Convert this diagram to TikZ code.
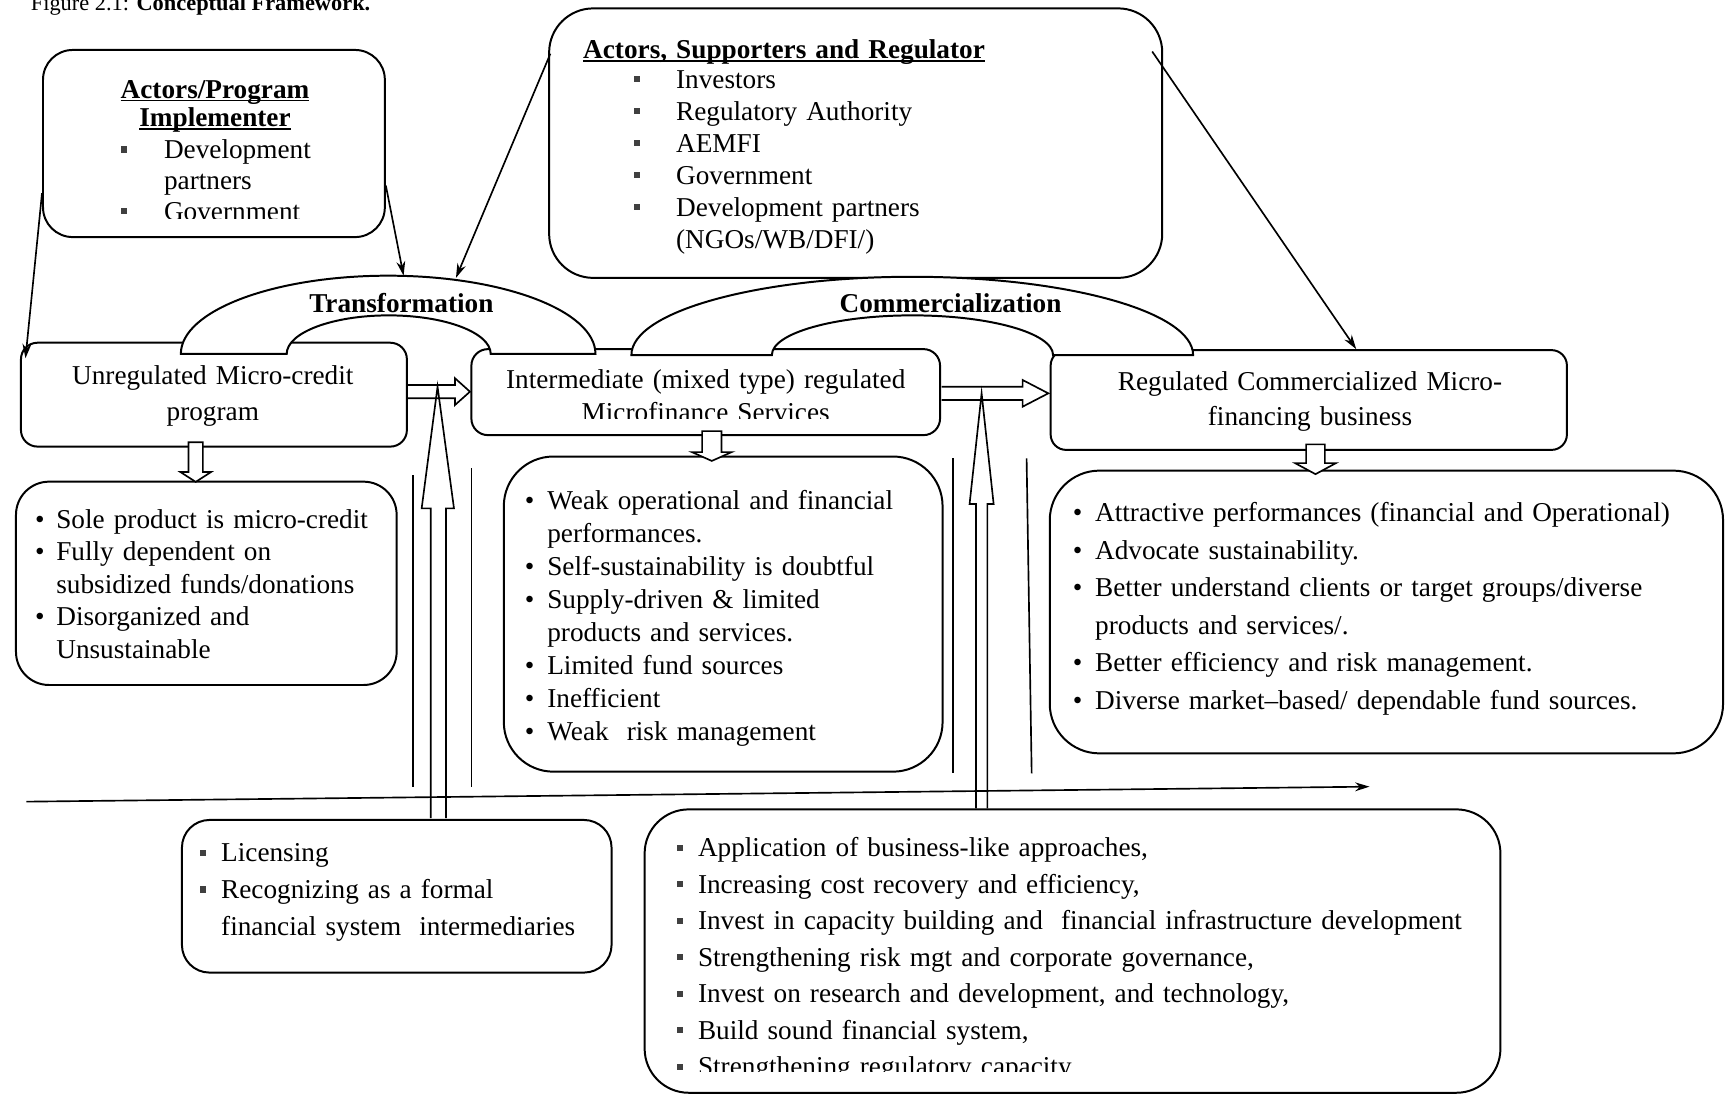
\documentclass[tikz,border=0pt]{standalone}
\usepackage{fontspec}
\setmainfont{Liberation Serif}
\usetikzlibrary{arrows.meta,calc}
\newsavebox\ulbox
\newcommand\myul[1]{\leavevmode\sbox{\ulbox}{#1}\rlap{\rule[-3pt]{\wd\ulbox}{1.5pt}}\usebox{\ulbox}}
\newcommand\sqb[1]{\leavevmode\llap{\textcolor{black!75}{\rule[5.2pt]{5.6pt}{5.6pt}}\hspace{#1}}}
\newcommand\rdb[1]{\leavevmode\llap{\textbullet\hspace{#1}}}
\newcommand\myfs[1]{\fontsize{24.7pt}{#1pt}\selectfont}
\tikzset{
  box/.style={draw, line width=1.8pt, rounded corners=#1, inner sep=0pt},
  txt/.style={inner sep=0pt, anchor=base west, align=left, text width=#1},
  ctxt/.style={inner sep=0pt, anchor=base, align=center, text width=#1},
  arr/.style={line width=1.5pt, -{Stealth[length=13pt,width=8pt]}},
  hollow/.style={line width=1.5pt, fill=white, line join=miter},
  openarrow/.style={line width=1.5pt, line join=miter},
  band/.style={line width=1.8pt, fill=white},
  plainline/.style={line width=1.5pt}
}
\begin{document}
\begin{tikzpicture}[x=1pt,y=-1pt]
\useasboundingbox (0,0) rectangle (1568,994);
% caption (cut at the top)
\node[anchor=base west, inner sep=0pt, font=\fontsize{20.3pt}{24pt}\selectfont] (cap) at (27.8,9.5) {Figure 2.1: \textbf{Conceptual Framework.}};
% boxes
\node[box=27pt, minimum width=310pt, minimum height=169.7pt] (A) at (194,130.15) {};
\node[box=40pt, minimum width=556pt, minimum height=244.4pt] (B) at (776,129.8) {};
\node[box=15pt, minimum width=350pt, minimum height=94.2pt] (U) at (194,357.9) {};
\node[box=15pt, minimum width=425pt, minimum height=78pt] (I) at (640,355.6) {};
\node[box=14pt, minimum width=468.2pt, minimum height=90.5pt] (R) at (1186.9,362.75) {};
\node[box=30pt, minimum width=345.2pt, minimum height=184.4pt] (D1) at (187.1,529) {};
\node[box=45pt, minimum width=397.9pt, minimum height=285.8pt] (D2) at (655.85,556.9) {};
\node[box=45pt, minimum width=610.6pt, minimum height=256.4pt] (D3) at (1257.3,555) {};
\node[box=25pt, minimum width=389.6pt, minimum height=138.4pt] (L) at (359.8,812.8) {};
\node[box=40pt, minimum width=776.1pt, minimum height=257pt] (M) at (972.65,862.5) {};
% arc bands
\draw[band] (164,321) arc[start angle=180,end angle=0,x radius=188pt,y radius=71pt] -- (445,321) arc[start angle=0,end angle=180,x radius=92.5pt,y radius=35pt] -- cycle;
\draw[band] (572.6,322) arc[start angle=180,end angle=0,x radius=254.7pt,y radius=71pt] -- (955,322) arc[start angle=0,end angle=180,x radius=127.5pt,y radius=36pt] -- cycle;
\coordinate (Ttop) at (352,250);
% small down arrows
\draw[hollow] (171,401) -- (184,401) -- (184,428) -- (191.5,428) -- (177.5,437) -- (163.5,428) -- (171,428) -- cycle;
\draw[hollow] (636.7,391) -- (654.3,391) -- (654.3,410) -- (663.5,410) -- (645.5,418) -- (627.5,410) -- (636.7,410) -- cycle;
\draw[hollow] (1184.5,403) -- (1201.5,403) -- (1201.5,420) -- (1211.5,420) -- (1193,430) -- (1174.5,420) -- (1184.5,420) -- cycle;
% horizontal hollow arrows
\draw[openarrow] (368.8,349.2) -- (412.6,349.2) -- (412.6,343) -- (426.2,355.2) -- (412.6,367.3) -- (412.6,361.2) -- (368.8,361.2);
\draw[openarrow] (854,350.7) -- (927.4,350.7) -- (927.4,344.6) -- (950.7,356.7) -- (927.4,368.8) -- (927.4,362.8) -- (854,362.8);
% vertical hollow arrows
\draw[openarrow] (390.6,742) -- (390.6,461) -- (382.4,461) -- (396.8,350.7) -- (411.7,461) -- (404.5,461) -- (404.5,742);
\draw[openarrow] (885.1,733) -- (885.1,457) -- (879.3,457) -- (890.2,356.7) -- (901.1,457) -- (895.4,457) -- (895.4,733);
% side lines
\draw[plainline] (374.8,430.8) -- (374.8,713.4);
\draw[plainline] (427.7,424.7) -- (427.7,713.4);
\draw[plainline] (864,415.6) -- (864,701.3);
\draw[plainline] (931,415.6) -- (935.6,701.3);
% long arrow
\coordinate (hl0) at (24,727);
\coordinate (hl1) at (1242,713.4);
\draw[arr] (hl0) -- (hl1);
% thin arrows
\draw[arr] ($(A.west)+(0,45)$) -- ($(U.north west)+(5,15)$);
\draw[arr] ($(A.east)+(0,38)$) -- ($(Ttop)+(14,0)$);
\draw[arr] ($(B.north west)+(2,42)$) -- ($(Ttop)+(61.5,2)$);
\draw[arr] ($(B.north east)+(-10,40)$) -- ($(R.north)+(43,0)$);
% texts
\node[ctxt=300pt, font=\myfs{26}\bfseries] (At) at (195,89) {\myul{Actors/Program}\\\myul{Implementer}};
\begin{scope}
\clip (39,45) rectangle (349,198);
\node[txt=190pt, font=\myfs{28}] (Ai) at (148.6,143.6) {\sqb{33.8pt}Development\\partners\\\sqb{33.8pt}Government};
\end{scope}
\node[txt=400pt, font=\myfs{29}\bfseries] (Bt) at (528.7,53) {\myul{Actors, Supporters and Regulator}};
\node[txt=400pt, font=\myfs{29}] (Bi) at (613,80) {\sqb{32.6pt}Investors\\\sqb{32.6pt}Regulatory Authority\\\sqb{32.6pt}AEMFI\\\sqb{32.6pt}Government\\\sqb{32.6pt}Development partners\\(NGOs/WB/DFI/)};
\node[ctxt=340pt, font=\myfs{32}] (Ut) at (193,349) {Unregulated Micro-credit\\program};
\begin{scope}
\clip (427,316) rectangle (853,379.5);
\node[ctxt=420pt, font=\myfs{30.4}] (It) at (640,352) {Intermediate (mixed type) regulated\\Microfinance Services};
\end{scope}
\node[ctxt=460pt, font=\myfs{31.5}] (Rt) at (1188,354) {Regulated Commercialized Micro-\\financing business};
\node[anchor=base, inner sep=0pt, font=\myfs{30}\bfseries] (Tlab) at (364,283) {Transformation};
\node[anchor=base, inner sep=0pt, font=\myfs{30}\bfseries] (Clab) at (862,283) {Commercialization};
\node[txt=320pt, font=\myfs{29.5}] (D1t) at (50.9,479) {\rdb{10.6pt}Sole product is micro-credit\\\rdb{10.6pt}Fully dependent on\\subsidized funds/donations\\\rdb{10.6pt}Disorganized and\\Unsustainable};
\node[txt=360pt, font=\myfs{29.9}] (D2t) at (496.2,461.9) {\rdb{11.8pt}Weak operational and financial\\performances.\\\rdb{11.8pt}Self-sustainability is doubtful\\\rdb{11.8pt}Supply-driven \& limited\\products and services.\\\rdb{11.8pt}Limited fund sources\\\rdb{11.8pt}Inefficient\\\rdb{11.8pt}Weak\ \ risk management};
\node[txt=580pt, font=\myfs{34.06}] (D3t) at (993,473) {\rdb{11.6pt}Attractive performances (financial and Operational)\\\rdb{11.6pt}Advocate sustainability.\\\rdb{11.6pt}Better understand clients or target groups/diverse\\products and services/.\\\rdb{11.6pt}Better efficiency and risk management.\\\rdb{11.6pt}Diverse market–based/ dependable fund sources.};
\node[txt=360pt, font=\myfs{33.3}] (Lt) at (200.4,781.4) {\sqb{13.6pt}Licensing\\\sqb{13.6pt}Recognizing as a formal\\financial system\ \ intermediaries};
\begin{scope}
\clip (584,734) rectangle (1361,972);
\node[txt=720pt, font=\myfs{33.1}] (Mt) at (632.8,776.9) {\sqb{13.3pt}Application of business-like approaches,\\\sqb{13.3pt}Increasing cost recovery and efficiency,\\\sqb{13.3pt}Invest in capacity building and\ \ financial infrastructure development\\\sqb{13.3pt}Strengthening risk mgt and corporate governance,\\\sqb{13.3pt}Invest on research and development, and technology,\\\sqb{13.3pt}Build sound financial system,\\\sqb{13.3pt}Strengthening regulatory capacity.};
\end{scope}
\end{tikzpicture}
\end{document}
